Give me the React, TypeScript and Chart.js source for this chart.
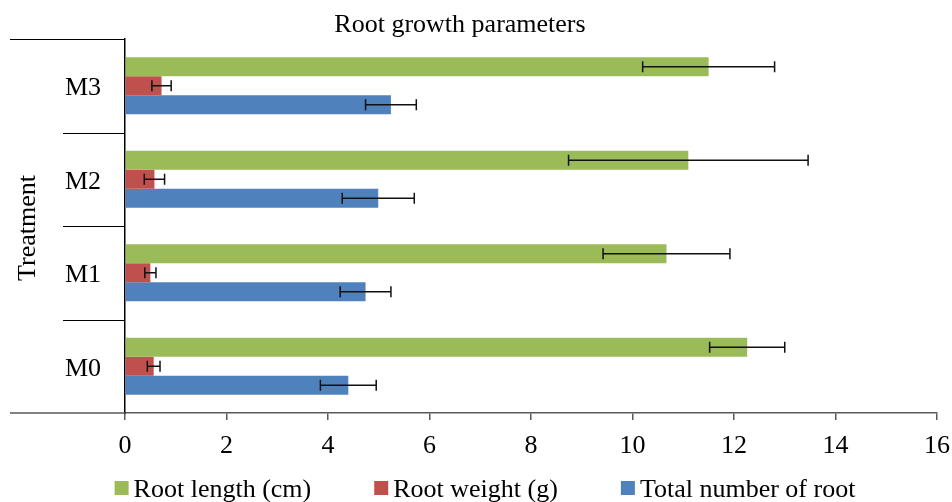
import React, { useEffect, useRef } from 'react';
import { Chart, registerables } from 'chart.js';

Chart.register(...registerables);

const chartTitle = 'Root growth parameters';
const axisTitle = 'Treatment';
const categories = ['M3', 'M2', 'M1', 'M0'];
const seriesNames = ['Root length (cm)', 'Root weight (g)', 'Total number of root'];
const seriesColors = ['#9BBB59', '#C0504D', '#4F81BD'];
const rootLength = [11.5, 11.1, 10.67, 12.26];
const rootLengthErr = [1.3, 2.36, 1.25, 0.74];
const rootWeight = [0.72, 0.58, 0.5, 0.565];
const rootWeightErr = [0.19, 0.2, 0.11, 0.125];
const totalRoots = [5.24, 4.99, 4.74, 4.4];
const totalRootsErr = [0.5, 0.71, 0.5, 0.55];
const xMin = 0;
const xMax = 16;
const xStep = 2;

const FONT = "'Liberation Serif', 'Times New Roman', serif";
const FS = 26;

const seriesValues = [rootLength, rootWeight, totalRoots];
const seriesErrors = [rootLengthErr, rootWeightErr, totalRootsErr];

const errorBarPlugin = {
  id: 'errorBars',
  afterDatasetsDraw(chart: any) {
    const ctx = chart.ctx;
    const xs = chart.scales.x;
    ctx.save();
    ctx.strokeStyle = '#111';
    ctx.lineWidth = 1.5;
    chart.data.datasets.forEach((ds: any, di: number) => {
      const meta = chart.getDatasetMeta(di);
      meta.data.forEach((bar: any, i: number) => {
        const v = ds.data[i];
        const e = ds.errors[i];
        const x1 = xs.getPixelForValue(v - e);
        const x2 = xs.getPixelForValue(v + e);
        const y = bar.y;
        const c = 5.5;
        ctx.beginPath();
        ctx.moveTo(x1, y);
        ctx.lineTo(x2, y);
        ctx.moveTo(x1, y - c);
        ctx.lineTo(x1, y + c);
        ctx.moveTo(x2, y - c);
        ctx.lineTo(x2, y + c);
        ctx.stroke();
      });
    });
    ctx.restore();
  },
};

const decorPlugin = {
  id: 'decor',
  afterDraw(chart: any) {
    const ctx = chart.ctx;
    const a = chart.chartArea;
    const n = categories.length;
    const h = (a.bottom - a.top) / n;
    ctx.save();
    // category separators
    ctx.strokeStyle = '#000';
    ctx.lineWidth = 1.2;
    for (let k = 0; k < n; k++) {
      const y = Math.round(a.top + k * h) + 0.5;
      const x0 = k === 0 ? 10 : 63;
      ctx.beginPath();
      ctx.moveTo(x0, y);
      ctx.lineTo(a.left, y);
      ctx.stroke();
    }
    ctx.strokeStyle = '#595959';
    ctx.lineWidth = 1.5;
    ctx.beginPath();
    ctx.moveTo(10, a.bottom);
    ctx.lineTo(a.left, a.bottom);
    ctx.stroke();

    ctx.fillStyle = '#000';
    ctx.font = `${FS}px ${FONT}`;
    // title
    ctx.textAlign = 'center';
    ctx.textBaseline = 'alphabetic';
    ctx.fillText(chartTitle, 460, 32);
    // axis title
    ctx.save();
    ctx.translate(35, (a.top + a.bottom) / 2 + 2);
    ctx.rotate(-Math.PI / 2);
    ctx.fillText(axisTitle, 0, 0);
    ctx.restore();
    // legend
    const box = 14;
    const gap = 5;
    const spacing = 63;
    const widths = seriesNames.map((s) => ctx.measureText(s).width);
    const total = widths.reduce((p, w) => p + box + gap + w, 0) + spacing * (seriesNames.length - 1);
    let x = 485 - total / 2;
    const baseY = 497;
    ctx.textAlign = 'left';
    seriesNames.forEach((s, i) => {
      ctx.fillStyle = seriesColors[i];
      ctx.fillRect(x, 481, box, box);
      ctx.fillStyle = '#000';
      ctx.fillText(s, x + box + gap, baseY);
      x += box + gap + widths[i] + spacing;
    });
    ctx.restore();
  },
};

export default function App() {
  const ref = useRef<HTMLCanvasElement | null>(null);
  useEffect(() => {
    if (!ref.current) return;
    const chart = new Chart(ref.current, {
      type: 'bar',
      data: {
        labels: categories,
        datasets: seriesNames.map((name, i) => ({
          label: name,
          data: seriesValues[i],
          errors: seriesErrors[i],
          backgroundColor: seriesColors[i],
          borderWidth: 0,
          barPercentage: 1,
          categoryPercentage: 0.61,
        })) as any,
      },
      options: {
        indexAxis: 'y',
        animation: false,
        responsive: false,
        devicePixelRatio: 1,
        layout: { padding: { left: 0, right: 15, top: 39, bottom: 34 } },
        plugins: {
          legend: { display: false },
          title: { display: false },
          tooltip: { enabled: false },
        },
        scales: {
          x: {
            min: xMin,
            max: xMax,
            ticks: {
              stepSize: xStep,
              color: '#000',
              font: { family: FONT, size: FS },
              padding: 11,
            },
            grid: {
              drawOnChartArea: false,
              drawTicks: true,
              tickLength: 7,
              color: '#595959',
              lineWidth: 1.5,
            },
            border: { display: true, color: '#595959', width: 1.5 },
            afterFit: (s: any) => {
              s.height = 55;
              s.paddingLeft = 0;
              s.paddingRight = 0;
            },
          },
          y: {
            ticks: {
              color: '#000',
              font: { family: FONT, size: FS },
              padding: 24,
              labelOffset: 2.5,
            },
            grid: { display: false, drawTicks: false },
            border: { display: true, color: '#000', width: 1.5 },
            afterFit: (s: any) => {
              s.width = 125;
              s.paddingTop = 0;
              s.paddingBottom = 0;
            },
          },
        },
      } as any,
      plugins: [errorBarPlugin, decorPlugin],
    });
    return () => chart.destroy();
  }, []);
  return (
    <div style={{ position: 'absolute', left: 0, top: 0, width: 952, height: 502, background: '#fff' }}>
      <canvas ref={ref} width={952} height={502} style={{ width: 952, height: 502, display: 'block' }} />
    </div>
  );
}
